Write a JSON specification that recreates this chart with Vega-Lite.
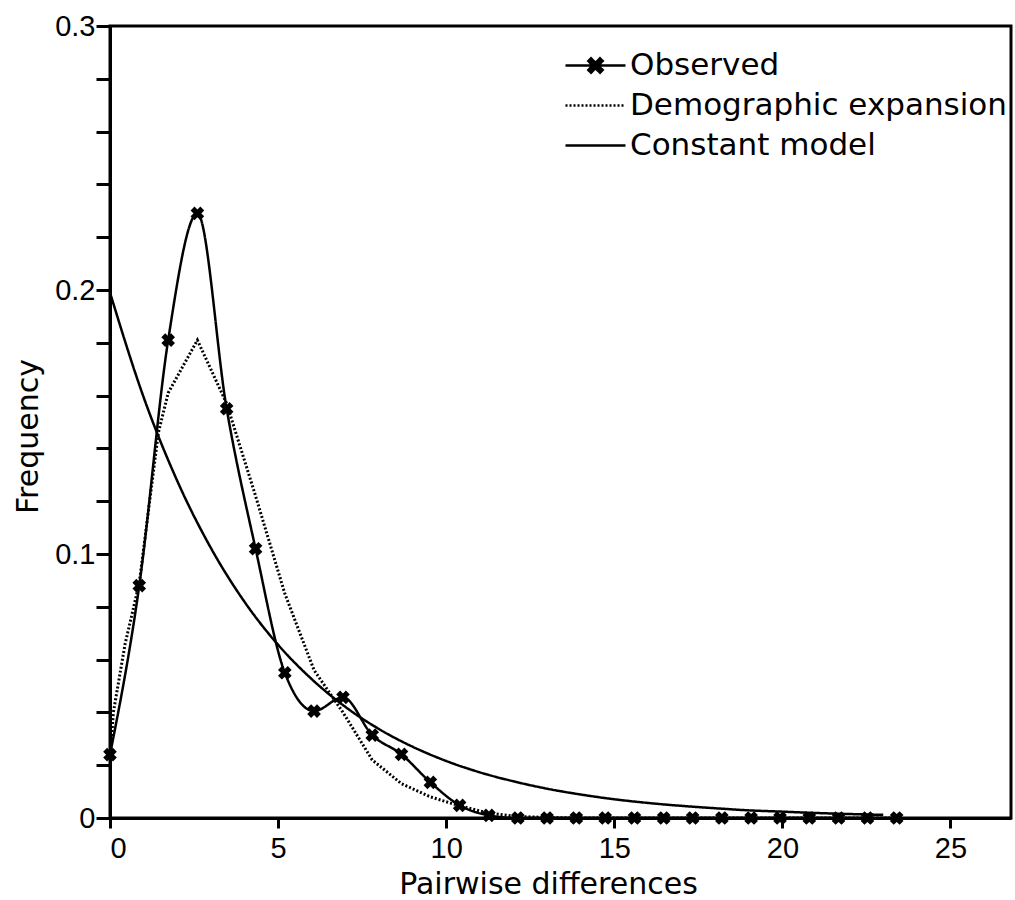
{
  "$schema": "https://vega.github.io/schema/vega-lite/v6.json",
  "width": 901,
  "height": 792,
  "autosize": {"type": "none"},
  "padding": {"left": 110, "top": 26, "right": 4, "bottom": 82},
  "background": "white",
  "config": {
    "view": {"stroke": "black", "strokeWidth": 3},
    "axis": {
      "grid": false,
      "domainColor": "black",
      "domainWidth": 3,
      "tickColor": "black",
      "tickWidth": 3,
      "labelColor": "black",
      "labelFont": "Liberation Sans",
      "labelFontSize": 29,
      "titleColor": "black",
      "titleFont": "DejaVu Sans",
      "titleFontSize": 30,
      "titleFontWeight": "normal"
    }
  },
  "data": {
    "values": [
      {"series": "Observed", "x": 0, "y": 0.024},
      {"series": "Observed", "x": 0.87, "y": 0.088},
      {"series": "Observed", "x": 1.73, "y": 0.181},
      {"series": "Observed", "x": 2.6, "y": 0.229},
      {"series": "Observed", "x": 3.47, "y": 0.155},
      {"series": "Observed", "x": 4.33, "y": 0.102},
      {"series": "Observed", "x": 5.2, "y": 0.055},
      {"series": "Observed", "x": 6.07, "y": 0.0405},
      {"series": "Observed", "x": 6.93, "y": 0.0457},
      {"series": "Observed", "x": 7.8, "y": 0.0314},
      {"series": "Observed", "x": 8.67, "y": 0.0241},
      {"series": "Observed", "x": 9.53, "y": 0.0135},
      {"series": "Observed", "x": 10.4, "y": 0.0048},
      {"series": "Observed", "x": 11.27, "y": 0.001},
      {"series": "Observed", "x": 12.13, "y": 0},
      {"series": "Observed", "x": 13.0, "y": 0},
      {"series": "Observed", "x": 13.87, "y": 0},
      {"series": "Observed", "x": 14.73, "y": 0},
      {"series": "Observed", "x": 15.6, "y": 0},
      {"series": "Observed", "x": 16.47, "y": 0},
      {"series": "Observed", "x": 17.33, "y": 0},
      {"series": "Observed", "x": 18.2, "y": 0},
      {"series": "Observed", "x": 19.07, "y": 0},
      {"series": "Observed", "x": 19.93, "y": 0},
      {"series": "Observed", "x": 20.8, "y": 0},
      {"series": "Observed", "x": 21.67, "y": 0},
      {"series": "Observed", "x": 22.53, "y": 0},
      {"series": "Observed", "x": 23.4, "y": 0},
      {"series": "Demographic expansion", "x": 0, "y": 0.022},
      {"series": "Demographic expansion", "x": 0.1, "y": 0.04},
      {"series": "Demographic expansion", "x": 0.45, "y": 0.066},
      {"series": "Demographic expansion", "x": 0.87, "y": 0.089},
      {"series": "Demographic expansion", "x": 1.44, "y": 0.146},
      {"series": "Demographic expansion", "x": 1.73, "y": 0.161},
      {"series": "Demographic expansion", "x": 2.6, "y": 0.181},
      {"series": "Demographic expansion", "x": 3.47, "y": 0.157},
      {"series": "Demographic expansion", "x": 4.33, "y": 0.122},
      {"series": "Demographic expansion", "x": 5.2, "y": 0.085},
      {"series": "Demographic expansion", "x": 6.07, "y": 0.056},
      {"series": "Demographic expansion", "x": 6.93, "y": 0.04},
      {"series": "Demographic expansion", "x": 7.8, "y": 0.022},
      {"series": "Demographic expansion", "x": 8.67, "y": 0.013},
      {"series": "Demographic expansion", "x": 9.53, "y": 0.008},
      {"series": "Demographic expansion", "x": 10.4, "y": 0.0046},
      {"series": "Demographic expansion", "x": 11.27, "y": 0.0018},
      {"series": "Demographic expansion", "x": 12.13, "y": 0.0006},
      {"series": "Demographic expansion", "x": 13.0, "y": 0.0002},
      {"series": "Demographic expansion", "x": 14.0, "y": 0},
      {"series": "Demographic expansion", "x": 23.4, "y": 0},
      {"series": "Constant model", "x": 0, "y": 0.199},
      {"series": "Constant model", "x": 1, "y": 0.1594},
      {"series": "Constant model", "x": 2, "y": 0.1277},
      {"series": "Constant model", "x": 3, "y": 0.1023},
      {"series": "Constant model", "x": 4, "y": 0.0819},
      {"series": "Constant model", "x": 5, "y": 0.0656},
      {"series": "Constant model", "x": 6, "y": 0.0526},
      {"series": "Constant model", "x": 7, "y": 0.0421},
      {"series": "Constant model", "x": 8, "y": 0.0337},
      {"series": "Constant model", "x": 9, "y": 0.027},
      {"series": "Constant model", "x": 10, "y": 0.0216},
      {"series": "Constant model", "x": 11, "y": 0.0173},
      {"series": "Constant model", "x": 12, "y": 0.0139},
      {"series": "Constant model", "x": 13, "y": 0.0111},
      {"series": "Constant model", "x": 14, "y": 0.0089},
      {"series": "Constant model", "x": 15, "y": 0.0071},
      {"series": "Constant model", "x": 16, "y": 0.0057},
      {"series": "Constant model", "x": 17, "y": 0.0046},
      {"series": "Constant model", "x": 18, "y": 0.0037},
      {"series": "Constant model", "x": 19, "y": 0.0029},
      {"series": "Constant model", "x": 20, "y": 0.0024},
      {"series": "Constant model", "x": 21, "y": 0.0019},
      {"series": "Constant model", "x": 22, "y": 0.0015},
      {"series": "Constant model", "x": 23, "y": 0.0012}
    ]
  },
  "encoding": {
    "x": {
      "field": "x",
      "type": "quantitative",
      "scale": {"domain": [0, 26.8], "nice": false, "zero": false},
      "axis": {
        "title": "Pairwise differences",
        "values": [0, 5, 10, 15, 20, 25],
        "format": "d",
        "tickSize": 10,
        "labelPadding": 6,
        "titleX": 438,
        "titleY": 75,
        "titleBaseline": "alphabetic",
        "titleAnchor": null
      }
    },
    "y": {
      "field": "y",
      "type": "quantitative",
      "scale": {"domain": [0, 0.3], "nice": false},
      "axis": {
        "title": "Frequency",
        "values": [0, 0.02, 0.04, 0.06, 0.08, 0.1, 0.12, 0.14, 0.16, 0.18, 0.2, 0.22, 0.24, 0.26, 0.28, 0.3],
        "labelExpr": "abs(datum.value * 10 - round(datum.value * 10)) < 0.001 ? format(datum.value, '.1~f') : ''",
        "tickSize": 14,
        "labelPadding": 1,
        "titleX": -73,
        "titleY": 410,
        "titleBaseline": "alphabetic",
        "titleAnchor": null
      }
    }
  },
  "layer": [
    {
      "transform": [{"filter": "datum.series === 'Constant model'"}],
      "mark": {"type": "line", "interpolate": "monotone", "color": "black", "strokeWidth": 2.5},
      "encoding": {
        "strokeDash": {
          "field": "series",
          "type": "nominal",
          "scale": {
            "domain": ["Observed", "Demographic expansion", "Constant model"],
            "range": [[1, 0], [2, 2], [1, 0]]
          },
          "legend": {
            "title": null,
            "orient": "none",
            "legendX": 454,
            "legendY": 24,
            "padding": 0,
            "symbolSize": 3600,
            "symbolStrokeWidth": 2.5,
            "symbolStrokeColor": "black",
            "clipHeight": 31,
            "rowPadding": 8,
            "labelOffset": 3,
            "labelFont": "DejaVu Sans",
            "labelFontSize": 31,
            "labelColor": "black",
            "labelLimit": 600,
            "encode": {
              "symbols": {
                "update": {
                  "shape": {"signal": "datum.label === 'Observed' ? 'M-1,0H1M-0.24,-0.15L-0.15,-0.24L0,-0.09L0.15,-0.24L0.24,-0.15L0.09,0L0.24,0.15L0.15,0.24L0,0.09L-0.15,0.24L-0.24,0.15L-0.09,0Z' : 'M-1,0H1'"},
                  "fill": {"value": "black"},
                  "stroke": {"value": "black"}
                }
              }
            }
          }
        }
      }
    },
    {
      "transform": [{"filter": "datum.series === 'Demographic expansion'"}],
      "mark": {"type": "line", "interpolate": "linear", "color": "black", "strokeWidth": 3},
      "encoding": {
        "strokeDash": {"field": "series", "type": "nominal"}
      }
    },
    {
      "transform": [{"filter": "datum.series === 'Observed'"}],
      "mark": {"type": "line", "interpolate": "monotone", "color": "black", "strokeWidth": 2.5},
      "encoding": {
        "strokeDash": {"field": "series", "type": "nominal"}
      }
    },
    {
      "transform": [{"filter": "datum.series === 'Observed'"}],
      "mark": {"type": "point", "shape": "cross", "angle": 45, "filled": true, "color": "black", "size": 190, "opacity": 1},
      "encoding": {}
    }
  ]
}
